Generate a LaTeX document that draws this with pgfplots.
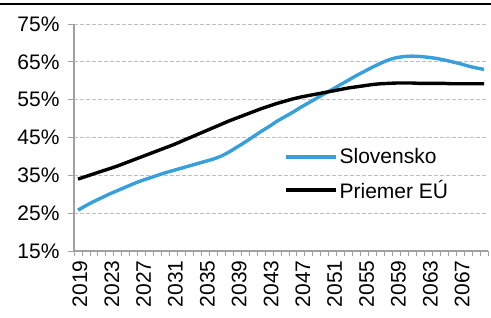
\documentclass[border=0pt]{standalone}
\usepackage{fontspec}
\setmainfont{Liberation Sans}
\usepackage{pgfplots}
\pgfplotsset{compat=1.18}
\definecolor{skblue}{RGB}{55,160,220}
\definecolor{gridgray}{RGB}{191,191,191}
\definecolor{axgray}{RGB}{160,160,160}
\begin{document}
\begin{tikzpicture}[x=1pt,y=1pt]
\useasboundingbox (-74,-67) rectangle (417,251);
\draw[black,line width=1.2pt] (-74,247) -- (417,247);
\begin{axis}[
  scale only axis, width=414pt, height=227pt,
  xmin=2018.5, xmax=2070.5, ymin=15, ymax=75,
  axis x line*=bottom, axis y line*=left,
  axis line style={axgray, line width=1.2pt},
  xtick={2019,2023,...,2067},
  minor xtick={2018.5,2019.5,...,2070.5},
  major x tick style={draw=none},
  minor x tick style={axgray, line width=0.8pt},
  minor tick length=5pt,
  ytick={15,25,...,75},
  yticklabel={\pgfmathprintnumber{\tick}\%},
  ymajorgrids, grid style={gridgray, dash pattern=on 4pt off 2pt, line width=0.9pt},
  major y tick style={axgray, line width=0.8pt},
  major tick length=6pt,
  tick align=outside,
  /pgf/number format/1000 sep={},
  /pgf/number format/assume math mode=true,
  tick label style={font=\fontsize{21}{24}\selectfont},
  xticklabel style={rotate=90, anchor=east, yshift=-2pt},
  yticklabel style={xshift=-5pt},
  legend style={at={(0.5,0.47)}, anchor=north west, draw=none, fill=none,
    font=\fontsize{21}{24}\selectfont, row sep=11pt},
  legend cell align=left,
  legend image code/.code={\draw[#1] (0pt,0pt) -- (50pt,0pt);},
]
\addplot[skblue, line width=3.4pt, smooth] coordinates {
(2019,25.8)(2020,27.0)(2021,28.1)(2022,29.1)(2023,30.1)(2024,31.0)(2025,31.9)(2026,32.8)(2027,33.6)(2028,34.3)(2029,35.0)(2030,35.7)(2031,36.3)(2032,36.9)(2033,37.5)(2034,38.1)(2035,38.7)(2036,39.3)(2037,40.1)(2038,41.2)(2039,42.5)(2040,43.8)(2041,45.2)(2042,46.6)(2043,47.9)(2044,49.3)(2045,50.5)(2046,51.7)(2047,53.0)(2048,54.2)(2049,55.4)(2050,56.6)(2051,57.8)(2052,59.0)(2053,60.2)(2054,61.4)(2055,62.5)(2056,63.6)(2057,64.6)(2058,65.5)(2059,66.1)(2060,66.4)(2061,66.5)(2062,66.4)(2063,66.2)(2064,65.9)(2065,65.5)(2066,65.0)(2067,64.5)(2068,63.9)(2069,63.4)(2070,63.0)
};
\addlegendentry{Slovensko}
\addplot[black, line width=3.4pt, smooth] coordinates {
(2019,34.0)(2020,34.7)(2021,35.4)(2022,36.1)(2023,36.8)(2024,37.5)(2025,38.3)(2026,39.1)(2027,39.9)(2028,40.7)(2029,41.5)(2030,42.3)(2031,43.1)(2032,44.0)(2033,44.9)(2034,45.8)(2035,46.7)(2036,47.6)(2037,48.5)(2038,49.4)(2039,50.2)(2040,51.0)(2041,51.8)(2042,52.6)(2043,53.3)(2044,54.0)(2045,54.6)(2046,55.2)(2047,55.7)(2048,56.1)(2049,56.5)(2050,56.9)(2051,57.3)(2052,57.7)(2053,58.1)(2054,58.4)(2055,58.7)(2056,59.0)(2057,59.2)(2058,59.3)(2059,59.4)(2060,59.4)(2061,59.4)(2062,59.3)(2063,59.3)(2064,59.3)(2065,59.3)(2066,59.2)(2067,59.2)(2068,59.2)(2069,59.2)(2070,59.2)
};
\addlegendentry{Priemer EÚ}
\end{axis}
\end{tikzpicture}
\end{document}
